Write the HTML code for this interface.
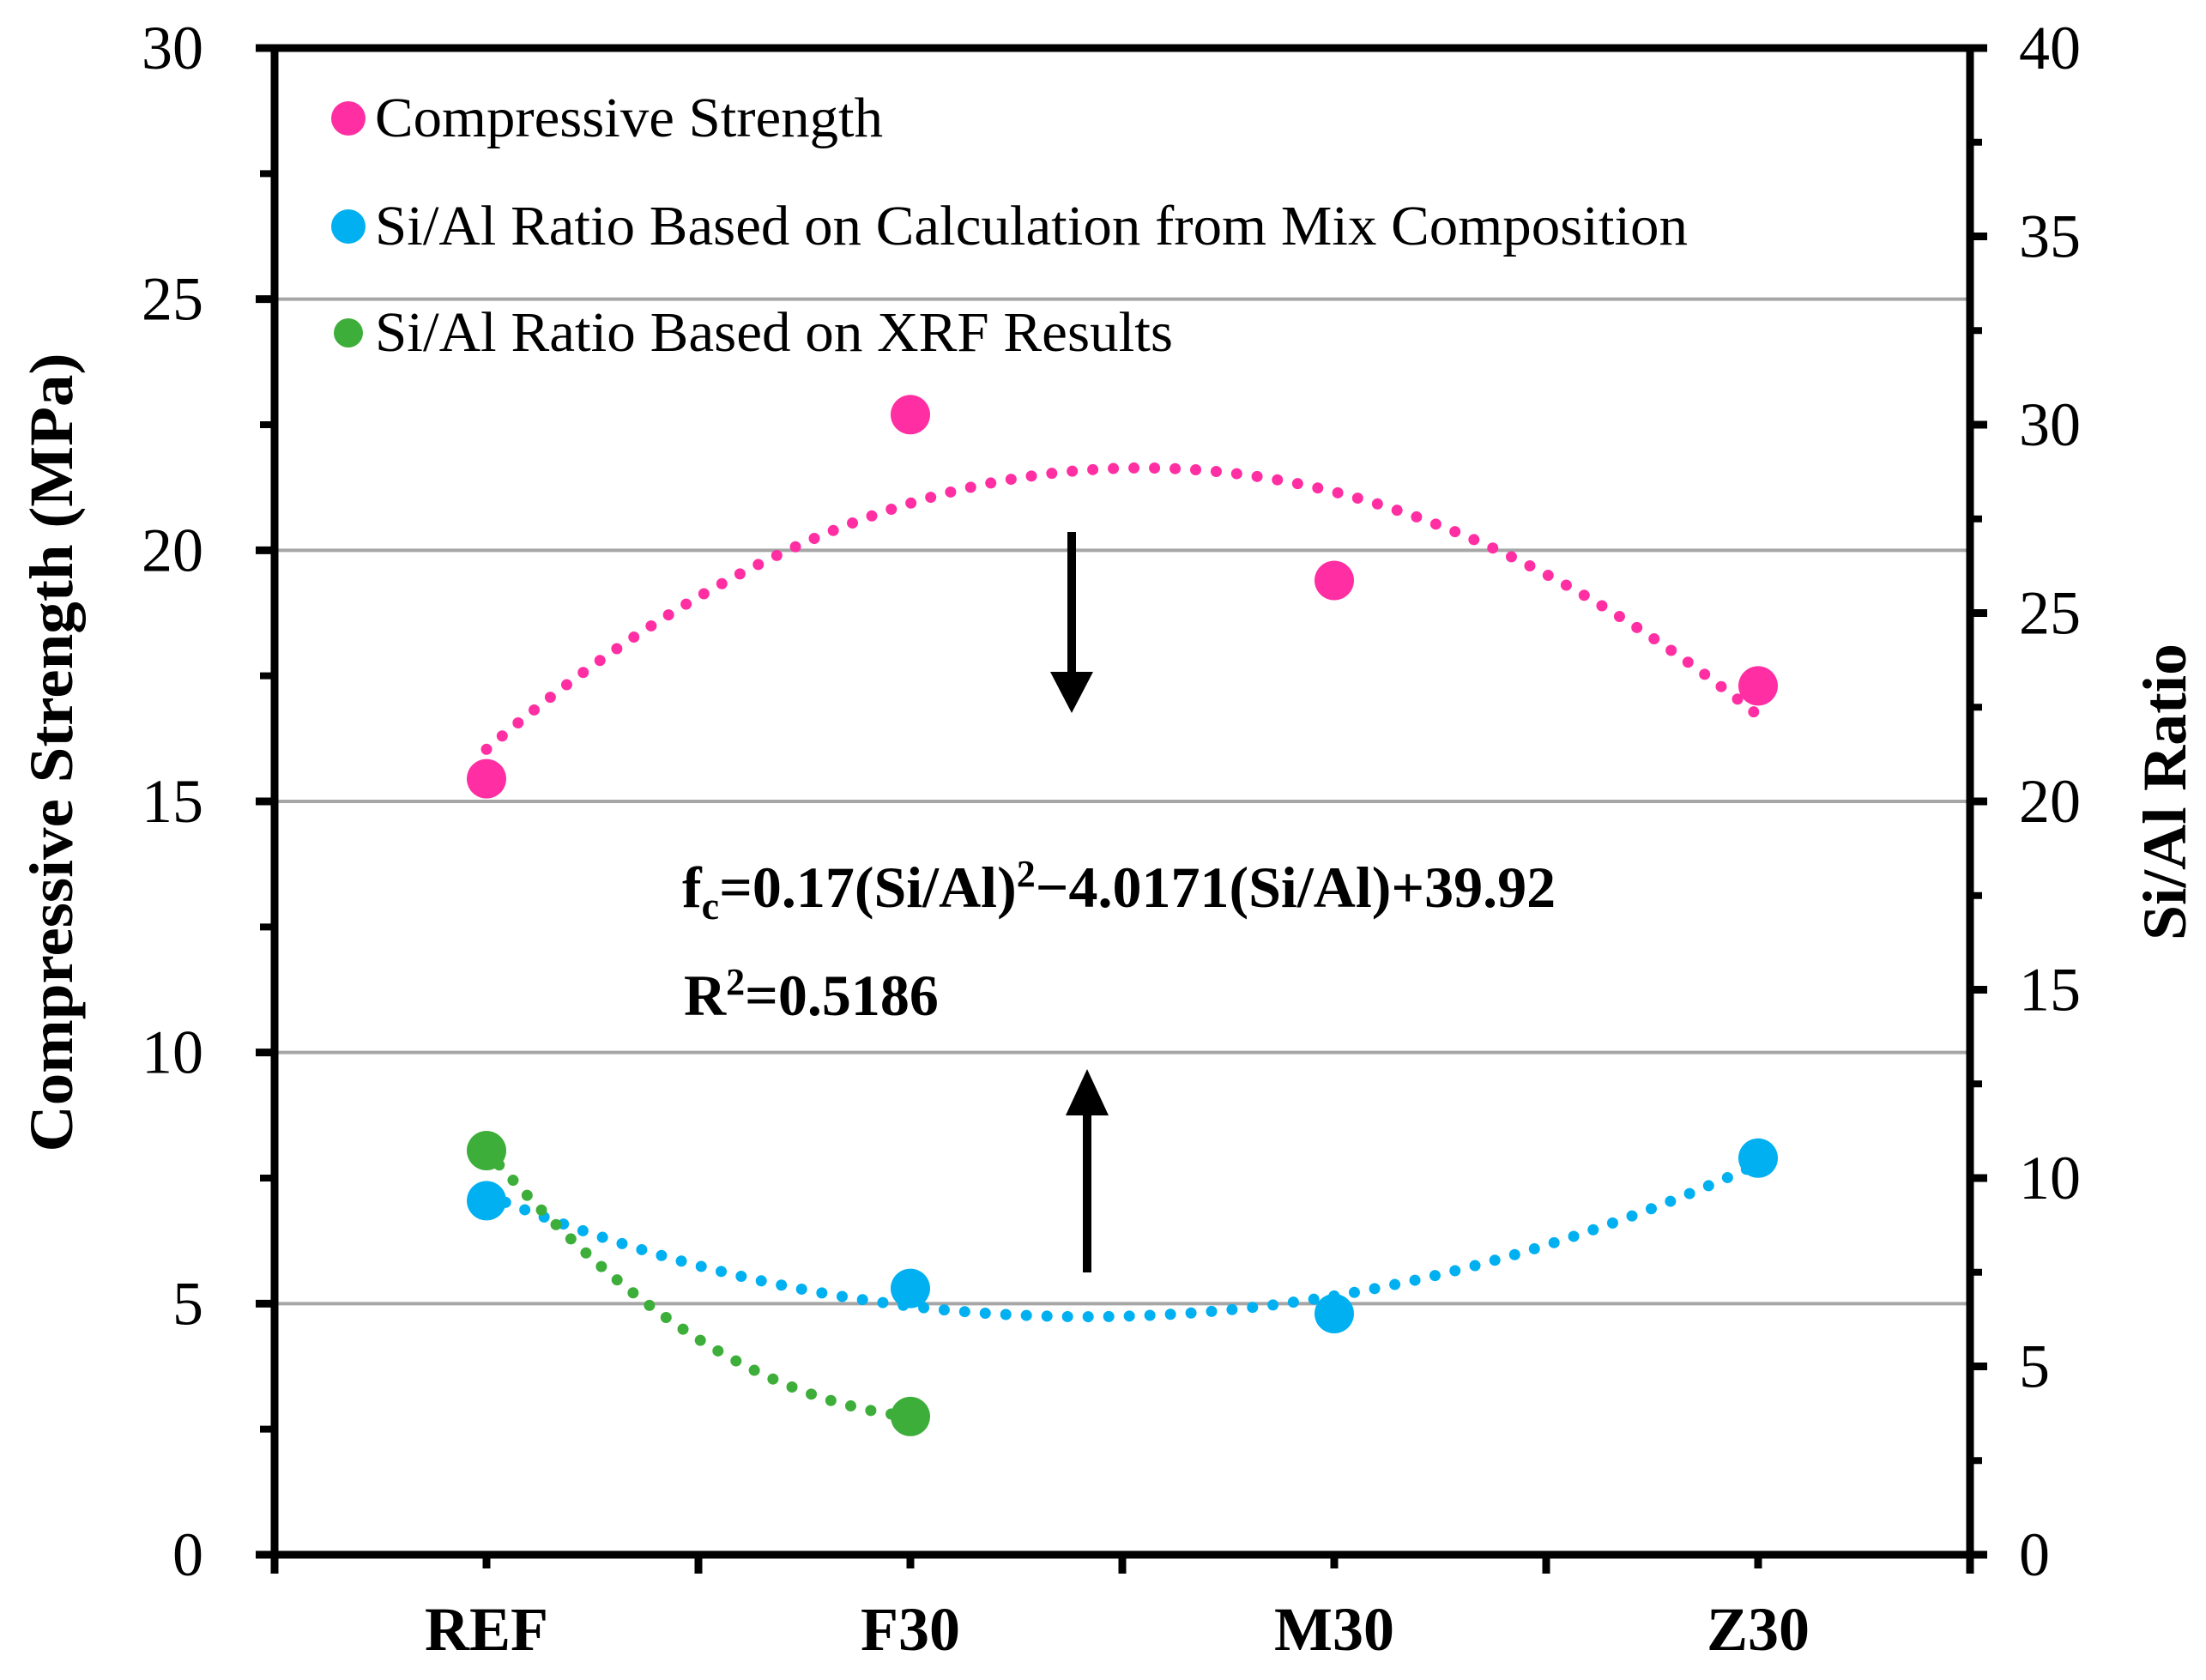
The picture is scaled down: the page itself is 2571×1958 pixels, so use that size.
<!DOCTYPE html>
<html><head><meta charset="utf-8"><style>
html,body{margin:0;padding:0;background:#fff;}
svg{display:block;}
text{font-family:"Liberation Serif",serif;fill:#000;}
</style></head><body>
<svg id="chart" width="2571" height="1958" viewBox="0 0 2571 1958" xmlns="http://www.w3.org/2000/svg">
<g id="grid"></g>
<g id="trends"></g>
<g id="points"></g>
<g id="axes"></g>
<g>
  <circle cx="406" cy="138" r="20" fill="#ff2fa3"/>
  <text x="437" y="159" font-size="66" textLength="592" lengthAdjust="spacingAndGlyphs">Compressive Strength</text>
  <circle cx="406" cy="264" r="20" fill="#00b0f0"/>
  <text x="437" y="285" font-size="66" textLength="1530" lengthAdjust="spacingAndGlyphs">Si/Al Ratio Based on Calculation from Mix Composition</text>
  <circle cx="406" cy="388" r="17" fill="#3dae3a"/>
  <text x="437" y="409" font-size="66" textLength="930" lengthAdjust="spacingAndGlyphs">Si/Al Ratio Based on XRF Results</text>
</g>
<text x="795" y="1057" font-size="68" font-weight="bold">f<tspan font-size="46" dy="14">c</tspan><tspan dy="-14">=0.17(Si/Al)</tspan><tspan font-size="44" dy="-24">2</tspan><tspan dy="24">−4.0171(Si/Al)+39.92</tspan></text>
<text x="797" y="1183" font-size="68" font-weight="bold">R<tspan font-size="44" dy="-24">2</tspan><tspan dy="24">=0.5186</tspan></text>
<g>
  <rect x="1244" y="620" width="10" height="166" fill="#000"/>
  <polygon points="1224,783 1274,783 1249,831" fill="#000"/>
</g>
<g>
  <rect x="1262" y="1296" width="10" height="187" fill="#000"/>
  <polygon points="1242,1300 1292,1300 1267,1246" fill="#000"/>
</g>
<text transform="translate(84,877) rotate(-90)" text-anchor="middle" font-size="72" font-weight="bold" textLength="931" lengthAdjust="spacingAndGlyphs">Compressive Strength (MPa)</text>
<text transform="translate(2547,923) rotate(-90)" text-anchor="middle" font-size="72" font-weight="bold" textLength="346" lengthAdjust="spacingAndGlyphs">Si/Al Ratio</text>
</svg>
<script>
const categories = ["REF","F30","M30","Z30"];
const strength = [15.45, 22.7, 19.4, 17.3];
const siAlMix = [9.4, 7.07, 6.4, 10.53];
const siAlXrf = [10.73, 3.67];
const leftTicks = [0,5,10,15,20,25,30];
const rightTicks = [0,5,10,15,20,25,30,35,40];

const NS = "http://www.w3.org/2000/svg";
const L=320, R=2296, T=56, B=1812;
const xPos = i => L + 247 + 494*i;
const yL = v => B - (v/30)*(B-T);
const yR = v => B - (v/40)*(B-T);
function mk(tag, attrs, parent){const e=document.createElementNS(NS,tag);for(const k in attrs)e.setAttribute(k,attrs[k]);parent.appendChild(e);return e;}
const grid=document.getElementById('grid'), axes=document.getElementById('axes'), trends=document.getElementById('trends'), pts=document.getElementById('points');

leftTicks.forEach(v=>{
  if(v>0 && v<30){const g=mk('line',{x1:L,x2:R,y1:yL(v),y2:yL(v),stroke:'#a6a6a6','stroke-width':4},grid);
  
  }
  const t=mk('text',{x:237,y:yL(v)+24,'text-anchor':'end','font-size':72},axes);t.textContent=v;
  
  
  mk('line',{x1:298,x2:L,y1:yL(v),y2:yL(v),stroke:'#000','stroke-width':9},axes);
  if(v<30) mk('line',{x1:303,x2:L,y1:yL(v+2.5),y2:yL(v+2.5),stroke:'#000','stroke-width':8},axes);
});
rightTicks.forEach(v=>{
  const t=mk('text',{x:2353,y:yR(v)+24,'font-size':72},axes);t.textContent=v;
  
  
  mk('line',{x1:R,x2:2316,y1:yR(v),y2:yR(v),stroke:'#000','stroke-width':9},axes);
  if(v<40) mk('line',{x1:R,x2:2310,y1:yR(v+2.5),y2:yR(v+2.5),stroke:'#000','stroke-width':8},axes);
});
mk('rect',{x:L,y:T,width:R-L,height:B-T,fill:'none',stroke:'#000','stroke-width':9},axes);
for(let k=0;k<=4;k++){mk('line',{x1:L+494*k,x2:L+494*k,y1:B,y2:1834,stroke:'#000','stroke-width':9},axes);}
categories.forEach((c,i)=>{
  mk('line',{x1:xPos(i),x2:xPos(i),y1:B,y2:1828,stroke:'#000','stroke-width':9},axes);
  const t=mk('text',{x:xPos(i),y:1923,'text-anchor':'middle','font-size':72,'font-weight':'bold'},axes);t.textContent=c;
  
  
});

function quadFit(ys){let S=[0,0,0,0,0],Ty=[0,0,0];
  ys.forEach((y,x)=>{for(let p=0;p<5;p++)S[p]+=Math.pow(x,p);for(let p=0;p<3;p++)Ty[p]+=y*Math.pow(x,p);});
  const M=[[S[0],S[1],S[2],Ty[0]],[S[1],S[2],S[3],Ty[1]],[S[2],S[3],S[4],Ty[2]]];
  for(let i=0;i<3;i++){for(let j=i+1;j<3;j++){const f=M[j][i]/M[i][i];for(let k=i;k<4;k++)M[j][k]-=f*M[i][k];}}
  const c=[0,0,0];for(let i=2;i>=0;i--){let s=M[i][3];for(let k=i+1;k<3;k++)s-=M[i][k]*c[k];c[i]=s/M[i][i];}
  return x=>c[0]+c[1]*x+c[2]*x*x;}
function dotted(f, x0, x1, ys, color, name){
  let d='';for(let s=0;s<=100;s++){const x=x0+(x1-x0)*s/100;d+=(s?'L':'M')+(L+247+494*x).toFixed(1)+','+ys(f(x)).toFixed(1);}
  const p=mk('path',{d:d,fill:'none',stroke:color,'stroke-width':13,'stroke-linecap':'round','stroke-dasharray':'0 24'},trends);
  
  
}
dotted(quadFit(strength),0,3,yL,'#ff2fa3','strength-trendline');
dotted(quadFit(siAlMix),0,3,yR,'#00b0f0','mix-trendline');
const xrfCurve = x => siAlXrf[0] + (siAlXrf[1]-siAlXrf[0])*x + 5.9*x*(x-1);
dotted(xrfCurve,0.03,0.97,yR,'#3dae3a','xrf-trendline');

function points(vals, ys, color, name){vals.forEach((v,i)=>{
  const c=mk('circle',{cx:xPos(i),cy:ys(v),r:23,fill:color},pts);
  
  
});}
points(siAlXrf, yR, '#3dae3a', 'xrf-point');
points(siAlMix, yR, '#00b0f0', 'mix-point');
points(strength, yL, '#ff2fa3', 'strength-point');
</script>
</body></html>
